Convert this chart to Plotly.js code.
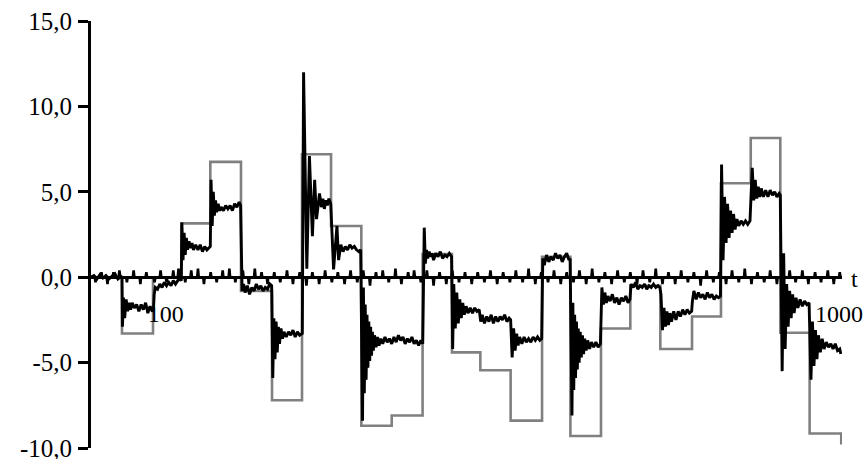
<!DOCTYPE html>
<html>
<head>
<meta charset="utf-8">
<script src="https://cdn.plot.ly/plotly-3.0.1.min.js"></script>
<style>html,body{margin:0;padding:0;background:#fff;}#chart{width:865px;height:459px;}</style>
</head>
<body>
<div id="chart"></div>
<script>
// Reference (grey step) signal: switching times and levels (hv steps)
var refT = [0, 41.4, 82.9, 120.7, 159.5, 200.5, 242, 282.1, 320.9, 361.4, 402, 443.3, 482.6, 520.5, 561, 603, 640.9, 681.8, 721, 761.1, 803.5, 842.2, 882, 921.5, 960.7, 1003];
var refY = [0, -3.3, 0, 3.15, 6.75, -0.8, -7.2, 7.2, 3.0, -8.7, -8.1, 1.35, -4.4, -5.45, -8.4, 1.2, -9.3, -3.0, -0.5, -4.2, -2.3, 5.5, 8.15, -3.25, -9.15, -9.8];

// Response (black) signal
var respT = [
  0, 4, 8, 12, 16, 20, 24, 28, 32, 36, 40, 41.4,
  42, 43.5, 45, 47, 49, 51, 53, 55, 58, 61, 64, 67, 70, 73, 76, 79, 82, 83.5,
  84.5, 86, 89, 92, 95, 98, 101, 104, 107, 110, 113, 116, 119, 120.7,
  121.5, 123, 124.5, 126, 127.5, 129, 131, 133, 135, 137, 140, 143, 146, 149, 152, 155, 158, 159.5,
  160.5, 162, 163.5, 165, 166.5, 168, 170, 172, 174, 177, 180, 183, 186, 189, 192, 195, 198, 200,
  202, 204, 206, 209, 212, 215, 218, 221, 224, 227, 230, 233, 236, 239, 241.5,
  243, 244.5, 246, 247.5, 249, 250.5, 252, 254, 256, 258, 261, 264, 267, 270, 273, 276, 279, 282.5,
  284.2, 288.5, 292, 296, 299, 301.5, 305.5, 308, 310, 312, 314, 316, 318, 320.5,
  324.3, 328.8, 331, 334, 337, 340, 343, 346, 349, 352, 355, 358, 360.5,
  363, 364.2, 365.4, 366.6, 367.8, 369, 370.2, 371.4, 372.6, 373.8, 375, 376.2, 377.5, 379, 381, 383, 385, 387.5, 390, 393, 396, 399, 402, 405, 408, 411, 414, 417, 420, 423, 426, 429, 432, 435, 438, 441, 443.5,
  445.5, 447, 448.5, 450, 452, 454, 456, 458, 461, 464, 467, 470, 473, 476, 479, 482,
  483.5, 485, 487, 489, 491, 493, 495, 497, 499, 501.5, 504, 507, 510, 513, 516, 519,
  521, 523, 526, 529, 532, 535, 538, 541, 544, 547, 550, 553, 556, 559, 561,
  563, 565, 567, 569, 571, 573, 576, 579, 582, 585, 588, 591, 594, 597, 600, 602.5,
  604, 606, 609, 612, 615, 618, 621, 624, 627, 630, 633, 636, 639, 640.5,
  643, 644.2, 645.4, 646.6, 647.8, 649, 650.2, 651.4, 652.6, 654, 655.5, 657, 658.5, 660, 662, 664, 666.5, 669, 672, 675, 678, 681,
  683, 685, 687, 689, 691, 694, 697, 700, 703, 706, 709, 712, 715, 718, 720.5,
  722, 725, 728, 731, 734, 737, 740, 743, 746, 749, 752, 755, 758, 760.5,
  762, 764, 766, 768, 770, 772, 774, 776, 779, 782, 785, 788, 791, 794, 797, 800, 803,
  804, 806, 809, 812, 815, 818, 821, 824, 827, 830, 833, 836, 839, 841.5,
  843, 845, 847, 849, 851, 853, 855, 857, 859, 861, 863.5, 866, 869, 872, 875, 878, 881,
  884, 886, 888, 890, 892, 894, 896, 899, 902, 905, 908, 911, 914, 917, 920, 921.5,
  924, 926, 928, 930, 932, 934, 936, 938, 940, 942.5, 945, 948, 951, 954, 957, 960,
  962.5, 964.5, 966.5, 968.5, 970.5, 972.5, 975, 977.5, 980, 983, 986, 989, 992, 995, 998, 1001, 1002.5
];
var respY = [
  0, 0.1, -0.1, 0.15, -0.05, 0.1, -0.1, 0.05, 0.2, -0.1, 0.05, 0,
  -2.9, -1.2, -2.4, -1.3, -2.0, -1.5, -1.9, -1.5, -1.8, -1.6, -2.0, -1.6, -1.9, -1.5, -2.1, -1.7, -2.0, -1.9,
  -1.0, -0.6, -0.7, -0.4, -0.6, -0.3, -0.5, -0.3, -0.5, -0.2, -0.4, -0.2, -0.1, -0.2,
  3.2, 1.0, 2.6, 1.3, 2.3, 1.6, 2.1, 1.7, 2.0, 1.6, 1.9, 1.6, 1.9, 1.5, 1.8, 1.6, 1.7, 1.8,
  5.7, 3.0, 5.0, 3.6, 4.5, 3.8, 4.3, 3.9, 4.1, 3.9, 4.2, 4.0, 4.2, 3.9, 4.3, 4.1, 4.4, 4.2,
  -0.8, -0.4, -0.9, -0.5, -1.0, -0.6, -0.8, -0.4, -0.7, -0.5, -0.8, -0.6, -0.7, -0.4, -0.5,
  -5.9, -2.4, -4.8, -2.6, -4.4, -2.9, -3.9, -3.0, -3.6, -3.2, -3.5, -3.2, -3.4, -3.1, -3.5, -3.2, -3.4, -3.3,
  12.0, 0.5, 7.1, 2.4, 5.7, 3.4, 4.9, 4.1, 4.6, 4.0, 4.5, 4.2, 4.6, 4.3,
  0.45, 3.0, 1.0, 1.9, 1.5, 1.8, 1.6, 1.9, 1.7, 1.8, 1.6, 1.5, 1.6,
  -8.4, -0.6, -6.8, -1.6, -6.0, -2.2, -5.3, -2.6, -4.9, -2.9, -4.6, -3.2, -4.3, -3.4, -4.1, -3.5, -4.0, -3.6, -3.9, -3.5, -3.8, -3.6, -3.9, -3.5, -3.8, -3.4, -3.7, -3.5, -3.9, -3.6, -3.8, -3.5, -3.9, -3.7, -4.0, -3.7, -3.9,
  2.9, 0.8, 1.6, 1.1, 1.5, 1.2, 1.4, 1.0, 1.4, 1.2, 1.5, 1.1, 1.3, 1.2, 1.4, 1.2,
  -4.2, -0.4, -3.0, -0.9, -2.7, -1.3, -2.4, -1.5, -2.2, -1.7, -2.1, -1.8, -2.1, -1.8, -2.0, -1.9,
  -2.6, -2.2, -2.7, -2.3, -2.6, -2.2, -2.7, -2.3, -2.6, -2.3, -2.5, -2.2, -2.6, -2.4, -2.5,
  -4.7, -3.0, -4.3, -3.3, -4.0, -3.5, -3.9, -3.5, -3.8, -3.6, -3.8, -3.5, -3.7, -3.5, -3.7, -3.6,
  1.1, 0.7, 1.3, 0.9, 1.2, 1.0, 1.4, 1.1, 1.3, 0.9, 1.2, 1.4, 1.0, 1.1,
  -8.1, -1.5, -6.6, -2.2, -5.9, -2.6, -5.4, -3.0, -5.0, -3.2, -4.7, -3.4, -4.5, -3.6, -4.3, -3.7, -4.2, -3.8, -4.1, -3.8, -4.1, -3.9,
  -0.6, -1.6, -0.9, -1.5, -1.1, -1.4, -1.0, -1.5, -1.2, -1.6, -1.2, -1.4, -1.1, -1.5, -1.3,
  -0.4, -0.6, -0.3, -0.7, -0.5, -0.6, -0.4, -0.7, -0.5, -0.6, -0.4, -0.6, -0.5, -0.6,
  -1.0, -3.1, -1.8, -2.9, -2.0, -2.8, -2.1, -2.6, -2.0, -2.5, -2.0, -2.3, -1.9, -2.2, -1.9, -2.1, -2.0,
  -1.4, -0.8, -1.3, -0.9, -1.2, -1.0, -1.3, -0.9, -1.2, -1.0, -1.3, -1.1, -1.2, -1.1,
  6.6, 1.0, 4.7, 2.0, 4.3, 2.3, 3.9, 2.6, 3.7, 2.8, 3.4, 3.0, 3.3, 3.1, 3.3, 3.1, 3.3,
  6.4, 4.5, 5.7, 4.6, 5.3, 4.7, 5.2, 4.7, 5.1, 4.7, 5.1, 4.8, 5.0, 4.7, 4.9, 4.8,
  -5.5, 1.4, -4.2, -0.4, -2.9, -0.8, -2.4, -1.0, -2.1, -1.2, -1.8, -1.3, -1.7, -1.4, -1.6, -1.5,
  -6.0, -2.6, -5.2, -3.1, -4.8, -3.4, -4.4, -3.6, -4.2, -3.8, -4.1, -3.9, -4.2, -3.9, -4.3, -4.2, -4.5
];

// Near-zero (black) signal: it stays on 0 except for short blips at these times
var blipT = [6, 14, 22, 30, 38, 48, 57, 66, 74, 85, 93, 101, 110, 117, 126, 134, 143, 151, 160, 168, 176, 185, 193,
  203, 211, 219, 228, 236, 245, 253, 262, 270, 279, 288, 296, 305, 313, 322, 330, 339, 347, 356, 364, 373, 381, 390, 398,
  407, 415, 424, 432, 441, 449, 458, 466, 475, 483, 492, 500, 509, 517, 526, 534, 543, 551, 560, 568, 577, 585, 594,
  602, 611, 619, 628, 636, 645, 653, 662, 670, 679, 687, 696, 704, 713, 721, 730, 738, 747, 755, 764, 772, 781, 789, 798,
  806, 815, 823, 832, 840, 849, 857, 866, 874, 883, 891, 900, 908, 917, 925, 934, 942, 951, 959, 968, 976, 985, 993, 1001];
var blipV = [-0.3, 0.3, -0.4, 0.3, 0.4, -0.3, 0.4, -0.4, 0.3, -0.3, 0.4, -0.3, 0.4, 0.5, -0.3, 0.4, 0.5, -0.4, 0.3, -0.3, 0.4, 0.5, -0.3,
  0.4, -0.4, 0.5, 0.3, -0.4, 0.3, -0.3, 0.4, -0.4, 0.3, -0.5, 0.3, -0.4, 0.4, -0.3, 0.3, -0.4, 0.4, -0.3, 0.4, -0.5, 0.3, 0.4, -0.3,
  0.5, -0.4, 0.3, 0.4, -0.3, 0.4, -0.5, 0.3, -0.4, 0.4, -0.3, 0.3, -0.4, 0.3, -0.3, 0.4, -0.4, 0.3, -0.3, 0.4, -0.3, 0.5, -0.4,
  0.3, -0.3, 0.4, -0.4, 0.3, -0.3, 0.4, -0.4, 0.5, -0.3, 0.3, -0.4, 0.4, -0.3, 0.3, -0.4, 0.4, -0.3, 0.5, -0.4, 0.3, -0.4, 0.4, -0.3,
  0.3, -0.5, 0.4, -0.3, 0.3, -0.4, 0.4, -0.3, 0.5, -0.4, 0.3, -0.3, 0.4, -0.4, 0.3, 0.4, -0.3, 0.4, -0.4, 0.3, -0.3, 0.4, -0.4, 0.3];
var blipHalfWidth = 1;
var errStart = 0, errEnd = 1003;

var yTickVals = [-10, -5, 0, 5, 10, 15];
var yTickText = ['-10,0', '-5,0', '0,0', '5,0', '10,0', '15,0'];
var xTickVals = [100, 1000];
var xTickText = ['100', '1000'];
var xEndTick = [1000];
var xAxisLabel = 't';

var xRange = [0, 1004];
var yRange = [-10, 15];
var axisPos = (0 - yRange[0]) / (yRange[1] - yRange[0]);
var fontFam = 'Liberation Serif, Times New Roman, serif';

// build the near-zero polyline from the blip list
var errT = [errStart], errY = [0];
for (var i = 0; i < blipT.length; i++) {
  errT.push(blipT[i] - blipHalfWidth, blipT[i], blipT[i] + blipHalfWidth);
  errY.push(0, blipV[i], 0);
}
errT.push(errEnd); errY.push(0);

var traces = [
  {x: refT, y: refY, type: 'scatter', mode: 'lines', line: {shape: 'hv', color: '#808080', width: 2.6}, hoverinfo: 'skip'},
  {x: errT, y: errY, type: 'scatter', mode: 'lines', line: {color: '#000000', width: 2.6}, hoverinfo: 'skip'},
  {x: respT, y: respY, type: 'scatter', mode: 'lines', line: {color: '#000000', width: 2.9}, hoverinfo: 'skip'}
];

var layout = {
  width: 865, height: 459,
  margin: {l: 91, r: 23, t: 21, b: 11},
  paper_bgcolor: '#ffffff', plot_bgcolor: '#ffffff',
  showlegend: false,
  font: {family: fontFam, size: 22, color: '#000000'},
  xaxis: {
    range: xRange, anchor: 'free', position: axisPos,
    showline: true, linecolor: '#000000', linewidth: 3,
    showgrid: false, zeroline: false,
    tickmode: 'array', tickvals: xTickVals, ticktext: xTickText,
    ticks: '', ticklabelstandoff: 14, ticklabeloverflow: 'allow',
    tickfont: {family: fontFam, size: 24, color: '#000000'}
  },
  xaxis2: {
    range: xRange, overlaying: 'x', anchor: 'free', position: axisPos,
    showline: false, showgrid: false, zeroline: false, showticklabels: false,
    tickmode: 'array', tickvals: xEndTick, ticks: 'outside', ticklen: 10, tickwidth: 2.5, tickcolor: '#000000'
  },
  xaxis3: {
    range: xRange, overlaying: 'x', anchor: 'free', position: axisPos,
    showline: false, showgrid: false, zeroline: false, showticklabels: false,
    tickmode: 'array', tickvals: xEndTick, ticks: 'inside', ticklen: 10, tickwidth: 2.5, tickcolor: '#000000'
  },
  yaxis: {
    range: yRange,
    showline: true, linecolor: '#000000', linewidth: 3,
    showgrid: false, zeroline: false,
    tickmode: 'array', tickvals: yTickVals, ticktext: yTickText,
    ticks: 'outside', ticklen: 10, tickwidth: 3, tickcolor: '#000000',
    ticklabeloverflow: 'allow', ticklabelstandoff: 1,
    tickfont: {family: fontFam, size: 25, color: '#000000'}
  },
  yaxis2: {
    range: yRange, overlaying: 'y', side: 'left',
    showline: false, showgrid: false, zeroline: false, showticklabels: false,
    tickmode: 'array', tickvals: yTickVals, ticks: 'inside', ticklen: 9, tickwidth: 3, tickcolor: '#000000'
  },
  annotations: [
    {text: xAxisLabel, xref: 'paper', x: 1, xanchor: 'left', xshift: 7, yref: 'y', y: 0, yanchor: 'middle', yshift: -2,
     showarrow: false, font: {family: fontFam, size: 24, color: '#000000'}}
  ]
};

Plotly.newPlot('chart', traces, layout, {staticPlot: true, displayModeBar: false});
</script>
</body>
</html>
